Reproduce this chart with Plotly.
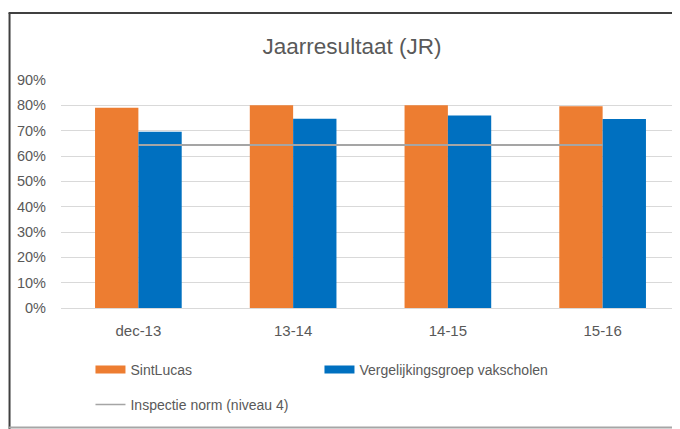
import plotly.graph_objects as go

categories = ["dec-13", "13-14", "14-15", "15-16"]
sintlucas = [0.79, 0.80, 0.80, 0.796]
vergelijking = [0.696, 0.747, 0.76, 0.746]
norm = [0.643, 0.643, 0.643, 0.643]
y_ticks = [0, 0.1, 0.2, 0.3, 0.4, 0.5, 0.6, 0.7, 0.8, 0.9]

ORANGE = "#ED7D31"
BLUE = "#0070C0"
GRAY = "#A5A5A5"
TEXT = "#595959"
GRID = "#D9D9D9"
FONT = "Liberation Sans"

# page body has an 8px margin; work in reference pixels and shift by it
OFF = 8
W, H = 680 - OFF, 429 - OFF
PLOT_L, PLOT_R, PLOT_T, PLOT_B = 60.5, 680, 80, 308  # reference pixels
L = PLOT_L - OFF
T = PLOT_T - OFF
B = H - (PLOT_B - OFF)
R = W - (PLOT_R - OFF)
PW, PH = W - L - R, H - T - B


def px(x):
    return (x - OFF - L) / PW


def py(y):
    return (PLOT_B - y) / PH


fig = go.Figure()
fig.add_trace(go.Bar(x=categories, y=sintlucas, name="SintLucas", marker_color=ORANGE,
                     marker_line_width=0, showlegend=False))
fig.add_trace(go.Bar(x=categories, y=vergelijking, name="Vergelijkingsgroep vakscholen",
                     marker_color=BLUE, marker_line_width=0, showlegend=False))
fig.add_trace(go.Scatter(x=categories, y=norm, mode="lines", name="Inspectie norm (niveau 4)",
                         line=dict(color=GRAY, width=2), showlegend=False))

# legend proxies
fig.add_trace(go.Scatter(x=[None], y=[None], mode="lines", name="SintLucas",
                         line=dict(color=ORANGE, width=8), legend="legend"))
fig.add_trace(go.Scatter(x=[None], y=[None], mode="lines", name="Vergelijkingsgroep vakscholen",
                         line=dict(color=BLUE, width=8), legend="legend"))
fig.add_trace(go.Scatter(x=[None], y=[None], mode="lines", name="Inspectie norm (niveau 4)",
                         line=dict(color=GRAY, width=1.5), legend="legend2"))

shapes = [
    dict(type="line", xref="paper", yref="paper", x0=px(8), x1=px(680), y0=py(13), y1=py(13),
         line=dict(color="#404040", width=2)),
    dict(type="line", xref="paper", yref="paper", x0=px(9), x1=px(9), y0=py(13), y1=py(429),
         line=dict(color="#404040", width=2)),
    dict(type="line", xref="paper", yref="paper", x0=px(8), x1=px(680), y0=py(427.5), y1=py(427.5),
         line=dict(color="#A6A6A6", width=2)),
]

fig.update_layout(
    width=W, height=H,
    margin=dict(l=L, r=R, t=T, b=B, pad=0),
    paper_bgcolor="white", plot_bgcolor="white",
    font=dict(family=FONT, color=TEXT, size=14),
    title=dict(text="Jaarresultaat (JR)", x=(352 - OFF) / W, xanchor="center",
               y=1 - (46 - OFF) / H, yanchor="middle",
               font=dict(size=22.5, color=TEXT, family=FONT)),
    barmode="group", bargap=0.44, bargroupgap=0,
    shapes=shapes,
    legend=dict(orientation="h", x=px(90), xanchor="left", y=py(370), yanchor="middle",
                entrywidth=184, entrywidthmode="pixels", font=dict(size=14, color=TEXT),
                bgcolor="rgba(0,0,0,0)", itemclick=False),
    legend2=dict(orientation="h", x=px(90), xanchor="left", y=py(405), yanchor="middle",
                 font=dict(size=14, color=TEXT), bgcolor="rgba(0,0,0,0)"),
)
fig.update_xaxes(type="category", showgrid=False, showline=False, ticks="",
                 tickfont=dict(size=15, color=TEXT), ticklabelstandoff=12)
fig.update_yaxes(range=[0, 0.9], tickvals=y_ticks, tickformat=".0%", showgrid=True,
                 gridcolor=GRID, gridwidth=1, zeroline=True, zerolinecolor=GRID, zerolinewidth=1,
                 showline=False, ticks="", tickfont=dict(size=14.5, color=TEXT),
                 ticklabelstandoff=14)

fig.write_html("out.html")
